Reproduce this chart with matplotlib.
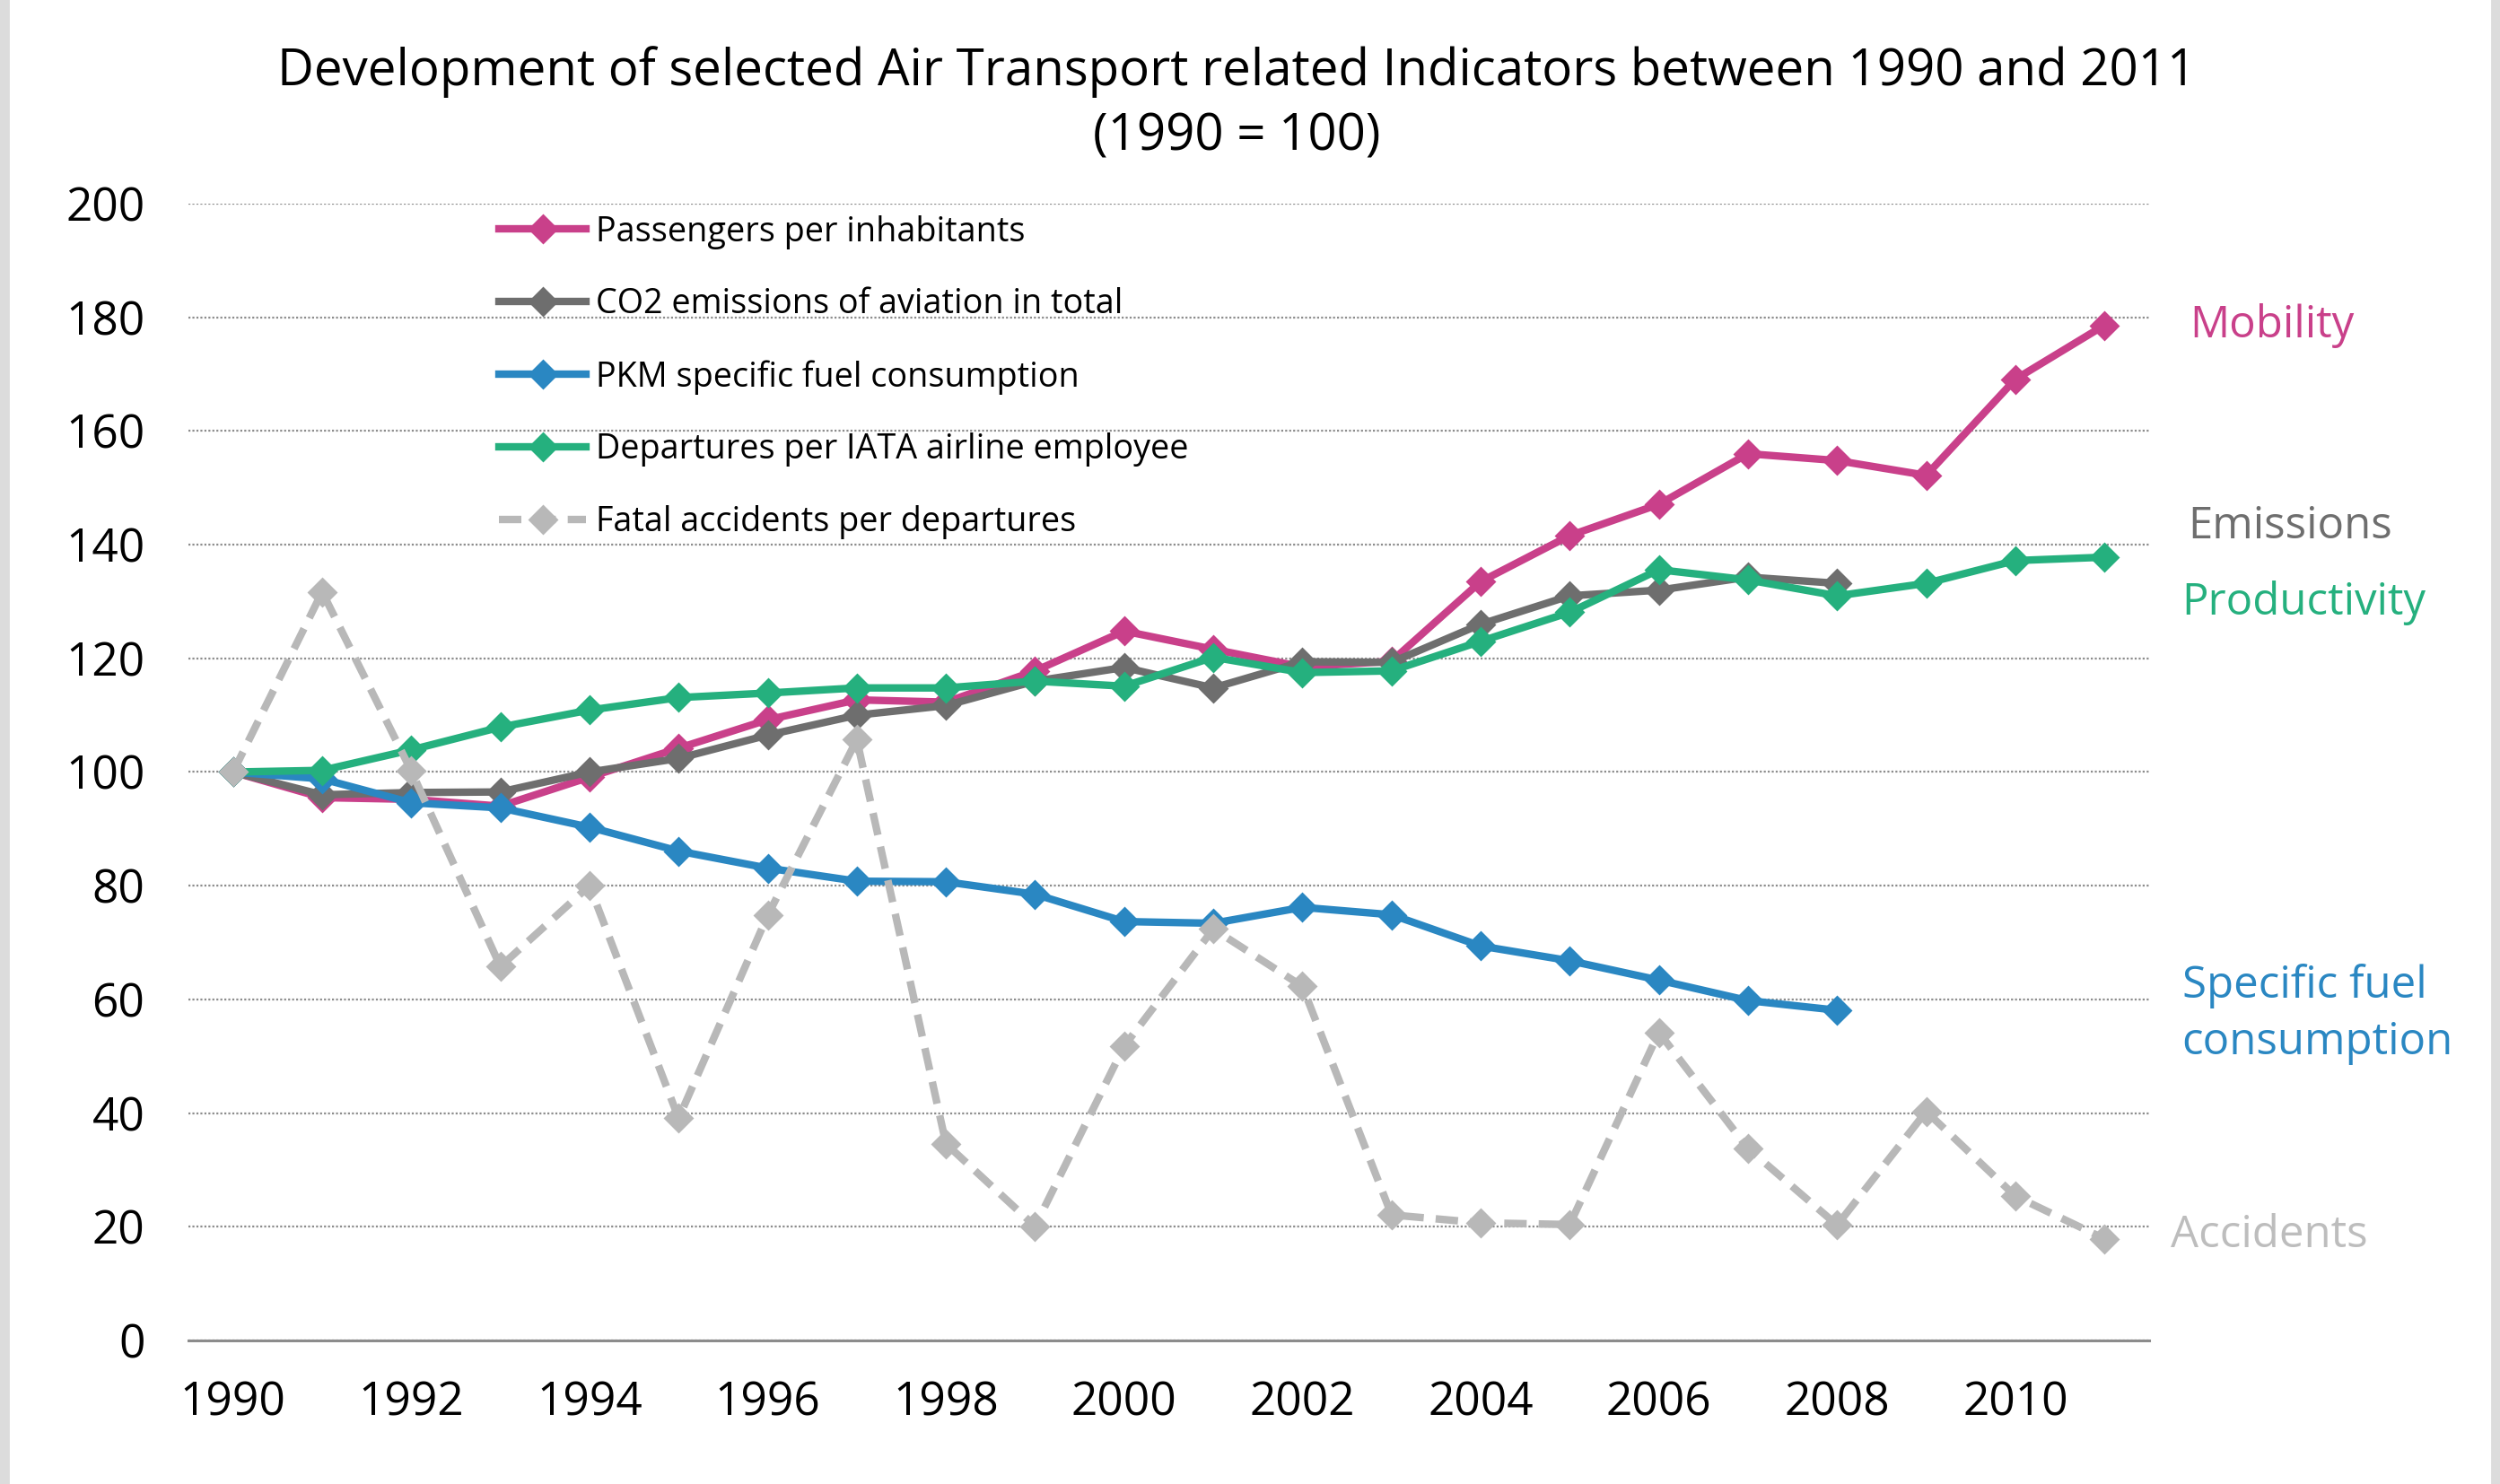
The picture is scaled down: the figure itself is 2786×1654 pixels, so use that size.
import matplotlib.pyplot as plt
from matplotlib.patches import Rectangle

plt.rcParams["font.family"] = ["Open Sans", "DejaVu Sans"]

# Index values, 1990 = 100
years = list(range(1990, 2012))
passengers = [100, 95.5, 95.2, 94.0, 99.1, 104.2, 109.2, 112.7, 112.3, 117.8, 124.8,
              121.6, 118.5, 119.5, 133.5, 141.6, 147.1, 156.0, 154.8, 152.2, 169.1, 178.6]
co2 = [100, 96.0, 96.4, 96.5, 100.0, 102.4, 106.5, 110.0, 111.7, 116.0, 118.4,
       114.8, 119.4, 119.3, 126.0, 131.0, 132.0, 134.3, 133.2]
fuel = [100, 98.8, 94.6, 93.7, 90.3, 86.1, 83.1, 80.8, 80.7, 78.5, 73.7,
        73.4, 76.2, 74.9, 69.4, 66.8, 63.4, 59.8, 58.1]
departures = [100, 100.3, 103.9, 107.9, 110.9, 113.1, 113.9, 114.8, 114.8, 116.0, 115.1,
              120.2, 117.5, 117.8, 123.0, 128.1, 135.6, 133.8, 131.0, 133.2, 137.2, 137.8]
accidents = [100, 131.7, 100.2, 65.8, 80.0, 39.1, 74.8, 105.7, 34.6, 20.1, 51.8,
             72.4, 62.3, 22.1, 20.7, 20.4, 54.2, 33.8, 20.3, 40.3, 25.4, 17.9]

series_labels = ["Passengers per inhabitants", "CO2 emissions of aviation in total",
                 "PKM specific fuel consumption", "Departures per IATA airline employee",
                 "Fatal accidents per departures"]

MAGENTA = "#C9408A"
DARKGRAY = "#6E6E6E"
BLUE = "#2A87C2"
GREEN = "#25B07E"
LIGHTGRAY = "#B8B8B8"

fig = plt.figure(figsize=(13.93, 8.27), dpi=200)
ax = fig.add_axes([0.0754, 0.0967, 0.7842, 0.7661])

# thin gray frame strips at the image edges
fig.patches.append(Rectangle((0, 0), 0.0033, 1, transform=fig.transFigure,
                             color="#DCDCDC", zorder=0))
fig.patches.append(Rectangle((0.9967, 0), 0.0033, 1, transform=fig.transFigure,
                             color="#DCDCDC", zorder=0))

lw = 3.0
ms = 7.5
ax.plot(years, passengers, color=MAGENTA, lw=lw, marker="D", ms=ms, label=series_labels[0])
ax.plot(years[:len(co2)], co2, color=DARKGRAY, lw=lw, marker="D", ms=ms, label=series_labels[1])
ax.plot(years[:len(fuel)], fuel, color=BLUE, lw=lw, marker="D", ms=ms, label=series_labels[2])
ax.plot(years, departures, color=GREEN, lw=lw, marker="D", ms=ms, label=series_labels[3])
ax.plot(years, accidents, color=LIGHTGRAY, lw=lw, marker="D", ms=ms,
        dashes=(3, 1.6), label=series_labels[4])

ax.set_xlim(1989.5, 2011.5)
ax.set_ylim(0, 200)
ax.set_yticks(range(0, 201, 20))
ax.set_xticks(range(1990, 2011, 2))
ax.tick_params(axis="both", length=0, labelsize=18.5)
ax.tick_params(axis="y", pad=17.5)
ax.tick_params(axis="x", pad=16)

ax.yaxis.grid(True, linestyle=(0, (1, 1)), color="#8C8C8C", linewidth=0.8)
ax.set_axisbelow(True)
for side in ["top", "left", "right"]:
    ax.spines[side].set_visible(False)
ax.spines["bottom"].set_color("#8C8C8C")
ax.spines["bottom"].set_linewidth(1.1)

leg = ax.legend(loc="upper left", bbox_to_anchor=(0.1585, 0.990), frameon=False,
                fontsize=13.6, handlelength=2.55, handletextpad=0.3, labelspacing=1.13,
                borderpad=0, borderaxespad=0)

# labels at right side
side_fs = 17.7
ax.text(2011.96, 178.6, "Mobility", color=MAGENTA, fontsize=side_fs, va="center", clip_on=False)
ax.text(2011.94, 143.2, "Emissions", color=DARKGRAY, fontsize=side_fs, va="center", clip_on=False)
ax.text(2011.87, 129.8, "Productivity", color=GREEN, fontsize=side_fs, va="center", clip_on=False)
ax.text(2011.87, 57.4, "Specific fuel\nconsumption", color=BLUE, fontsize=side_fs,
        va="center", linespacing=1.35, clip_on=False)
ax.text(2011.74, 18.4, "Accidents", color="#BDBDBD", fontsize=side_fs, va="center", clip_on=False)

fig.text(0.4946, 1 - 116 / 1654,
         "Development of selected Air Transport related Indicators between 1990 and 2011\n(1990 = 100)",
         ha="center", va="center", fontsize=20.3, linespacing=1.36)

fig.savefig("out.png", dpi=200, facecolor="white")
